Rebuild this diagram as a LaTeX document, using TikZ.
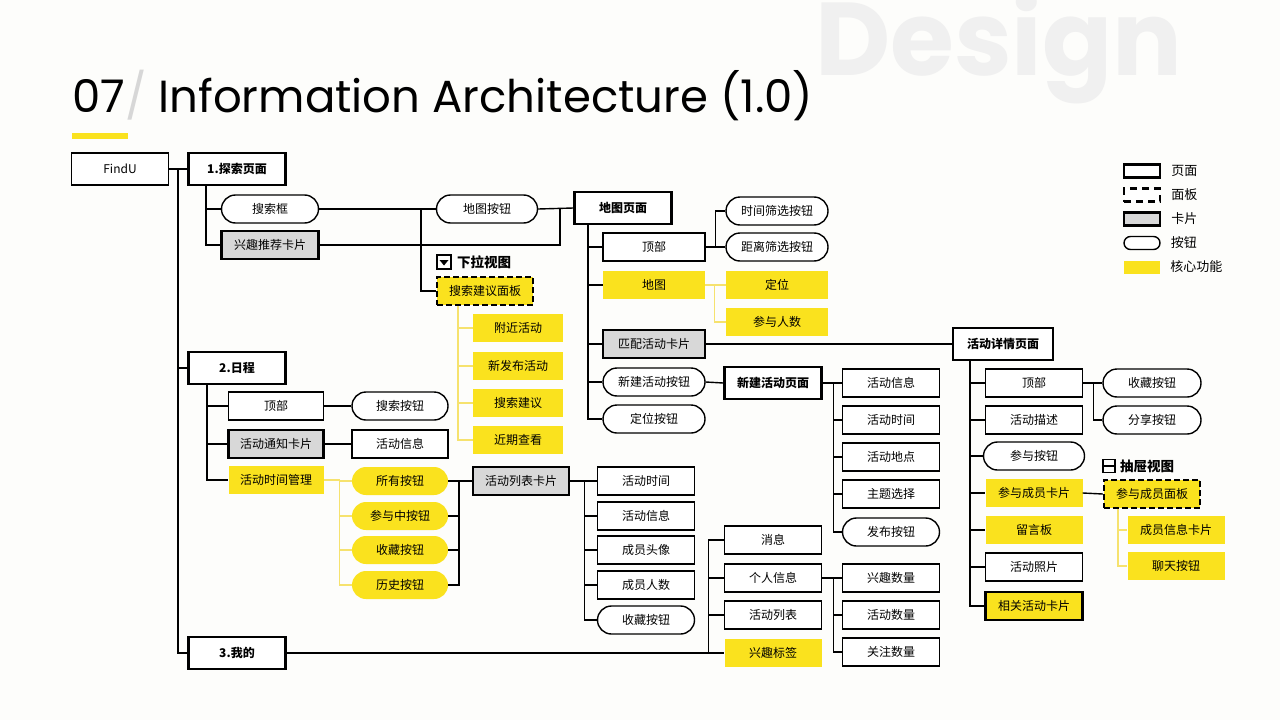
\documentclass[tikz,border=0pt]{standalone}
\usepackage{fontspec}
\setmainfont{Noto Sans CJK SC}
\newfontfamily\titlefont{Poppins}
\usetikzlibrary{positioning}
\definecolor{coreyellow}{RGB}{250,226,30}
\definecolor{corelinecol}{RGB}{246,226,110}
\definecolor{cardgray}{RGB}{216,216,216}
\definecolor{pagebg}{RGB}{253,253,251}
\definecolor{ghost}{RGB}{240,240,240}
\definecolor{slashgray}{RGB}{215,215,215}
\begin{document}
\begin{tikzpicture}[x=1pt, y=-1pt,
    box/.style={minimum width=97pt, minimum height=28pt, inner sep=0pt, font=\fontsize{12}{14}\selectfont},
    rectbox/.style={box, draw, line width=1.4pt, fill=white},
    pagebox/.style={box, draw, line width=2.4pt, fill=white, minimum height=32pt, font=\fontsize{12}{14}\selectfont\bfseries},
    cardbox/.style={box, draw, line width=2.4pt, fill=cardgray},
    btnbox/.style={box, draw, line width=1.4pt, rounded corners=14pt, fill=white},
    panelbox/.style={box, draw, line width=2.4pt, dash pattern=on 6pt off 3pt, fill=coreyellow},
    corebox/.style={box, fill=coreyellow},
    corebtn/.style={box, fill=coreyellow, rounded corners=14pt},
    conn/.style={line width=1.4pt},
    coreconn/.style={line width=1.4pt, draw=corelinecol},
    viewlabel/.style={font=\fontsize{13.5}{15}\selectfont\bfseries, inner sep=0pt},
    legendtext/.style={box, minimum width=0pt, font=\fontsize{13}{15}\selectfont}]

  \fill[pagebg] (0,0) rectangle (1280,720);
  \useasboundingbox (0,0) rectangle (1280,720);

  % title
  \node[anchor=base west, inner sep=0pt, text=ghost] (ghosttext) at (815,75) {\titlefont\bfseries\fontsize{103.5}{110}\selectfont Design};
  \node[anchor=base west, inner sep=0pt] (title) at (72,112) {\titlefont\fontsize{45}{50}\selectfont 07\textcolor{slashgray}{/} Information Architecture (1.0)};
  \fill[coreyellow] (72,133) rectangle (128,139);

  % root and pages
  \node[rectbox, minimum height=32pt] (findu) at (120,169) {FindU};
  \node[pagebox] (explore) at (237,169) {1.探索页面};
  \node[pagebox] (schedule) at (237,368) {2.日程};
  \node[pagebox] (mine) at (237,653) {3.我的};
  \coordinate (rootfork) at (178,169);
  \draw[conn] (findu.east) -- (explore.west);
  \draw[conn] (rootfork) |- (schedule.west);
  \draw[conn] (rootfork) |- (mine.west);

  % 1. explore
  \node[btnbox] (searchbox) at (270,209) {搜索框};
  \node[cardbox] (reccard) at (270,245) {兴趣推荐卡片};
  \draw[conn] ([xshift=-31pt]explore.south) |- (searchbox.west);
  \draw[conn] ([xshift=-31pt]explore.south) |- (reccard.west);

  \node[btnbox, minimum width=101pt] (mapbtn) at (487,209) {地图按钮};
  \node[pagebox] (mappage) at (623,208) {地图页面};
  \node[panelbox, minimum width=96pt] (suggpanel) at (485,291) {搜索建议面板};
  \node[draw, line width=1.6pt, minimum size=14pt, inner sep=0pt] (dropicon) at (444,262) {};
  \fill ([xshift=-4.5pt,yshift=2pt]dropicon.center) -- ([xshift=4.5pt,yshift=2pt]dropicon.center) -- ([yshift=-3.5pt]dropicon.center) -- cycle;
  \node[viewlabel, right=5pt of dropicon] (droplabel) {下拉视图};
  \coordinate (searchfork) at (421,209);
  \coordinate (mapfork) at (560,209);
  \draw[conn] (searchbox.east) -- (mapbtn.west);
  \draw[conn] (searchfork) |- (suggpanel.west);
  \draw[conn] (mapbtn.east) -- (mappage.west);
  \draw[conn] (reccard.east) -| (mapfork);

  \node[corebox, minimum width=90pt] (nearby) at (518,328) {附近活动};
  \node[corebox, minimum width=90pt] (newest) at (518,366) {新发布活动};
  \node[corebox, minimum width=90pt] (suggest) at (518,403) {搜索建议};
  \node[corebox, minimum width=90pt] (recent) at (518,440) {近期查看};
  \draw[coreconn] ([xshift=-27pt]suggpanel.south) |- (nearby.west);
  \draw[coreconn] ([xshift=-27pt]suggpanel.south) |- (newest.west);
  \draw[coreconn] ([xshift=-27pt]suggpanel.south) |- (suggest.west);
  \draw[coreconn] ([xshift=-27pt]suggpanel.south) |- (recent.west);

  % map page
  \node[rectbox, minimum width=102pt] (maptop) at (654,247) {顶部};
  \node[corebox, minimum width=102pt] (mapview) at (654,285) {地图};
  \node[cardbox, minimum width=102pt] (matchcard) at (654,344) {匹配活动卡片};
  \node[btnbox, minimum width=102pt] (newbtn) at (654,382) {新建活动按钮};
  \node[btnbox, minimum width=102pt] (locbtn) at (654,419) {定位按钮};
  \foreach \n in {maptop, mapview, matchcard, newbtn, locbtn}
    \draw[conn] ([xshift=-35pt]mappage.south) |- (\n.west);

  \node[btnbox, minimum width=102pt] (timefilter) at (777,211) {时间筛选按钮};
  \node[btnbox, minimum width=102pt] (distfilter) at (777,247) {距离筛选按钮};
  \draw[conn] (maptop.east) -- (distfilter.west);
  \draw[conn] ([xshift=10pt]maptop.east) |- (timefilter.west);
  \node[corebox, minimum width=102pt] (locate) at (777,285) {定位};
  \node[corebox, minimum width=102pt] (people) at (777,322) {参与人数};
  \draw[coreconn] (mapview.east) -- (locate.west);
  \draw[coreconn] ([xshift=9pt]mapview.east) |- (people.west);

  % new activity page
  \node[pagebox] (newpage) at (773,383) {新建活动页面};
  \draw[conn] (newbtn.east) -- (newpage.west);
  \node[rectbox] (newinfo) at (891,383) {活动信息};
  \node[rectbox] (newtime) at (891,420) {活动时间};
  \node[rectbox] (newplace) at (891,457) {活动地点};
  \node[rectbox] (newtopic) at (891,494) {主题选择};
  \node[btnbox] (publish) at (891,532) {发布按钮};
  \foreach \n in {newinfo, newtime, newplace, newtopic, publish}
    \draw[conn] ([xshift=11pt]newpage.east) |- (\n.west);
  \draw[conn] (newpage.east) -- ++(11,0);

  % activity detail page
  \node[pagebox, minimum width=100pt] (detail) at (1003,344) {活动详情页面};
  \draw[conn] (matchcard.east) -- (detail.west);
  \node[rectbox] (dettop) at (1034,383) {顶部};
  \node[rectbox] (detdesc) at (1034,420) {活动描述};
  \node[btnbox, minimum width=101pt] (joinbtn) at (1034,456) {参与按钮};
  \node[corebox] (membercard) at (1034,493) {参与成员卡片};
  \node[corebox] (board) at (1034,530) {留言板};
  \node[rectbox] (photos) at (1034,567) {活动照片};
  \node[box, draw, line width=2.4pt, fill=coreyellow] (relcard) at (1034,606) {相关活动卡片};
  \foreach \n in {dettop, detdesc, joinbtn, membercard, board, photos, relcard}
    \draw[conn] ([xshift=-33pt]detail.south) |- (\n.west);

  \node[btnbox, minimum width=98pt] (favbtn) at (1152,383) {收藏按钮};
  \node[btnbox, minimum width=98pt] (sharebtn) at (1152,420) {分享按钮};
  \draw[conn] (dettop.east) -- (favbtn.west);
  \draw[conn] ([xshift=10pt]dettop.east) |- (sharebtn.west);

  \node[draw, line width=1.6pt, minimum width=12pt, minimum height=13pt, inner sep=0pt] (drawericon) at (1109,466) {};
  \draw[line width=1.4pt] (drawericon.west) -- (drawericon.east);
  \node[viewlabel, right=4pt of drawericon] (drawerlabel) {抽屉视图};
  \node[panelbox, minimum width=96pt] (memberpanel) at (1152,494) {参与成员面板};
  \draw[conn] (membercard.east) -- (memberpanel.west);
  \node[corebox] (memberinfo) at (1176,530) {成员信息卡片};
  \node[corebox] (chatbtn) at (1176,566) {聊天按钮};
  \draw[coreconn] ([xshift=-34pt]memberpanel.south) |- (memberinfo.west);
  \draw[coreconn] ([xshift=-34pt]memberpanel.south) |- (chatbtn.west);

  % 2. schedule
  \node[rectbox, minimum width=95pt] (schedtop) at (276,406) {顶部};
  \node[cardbox, minimum width=95pt] (notecard) at (276,444) {活动通知卡片};
  \node[corebox, minimum width=95pt] (timemgr) at (276,480) {活动时间管理};
  \foreach \n in {schedtop, notecard, timemgr}
    \draw[conn] ([xshift=-30pt]schedule.south) |- (\n.west);

  \node[btnbox, minimum width=96pt] (searchbtn) at (400,406) {搜索按钮};
  \node[rectbox, minimum width=96pt] (noteinfo) at (400,444) {活动信息};
  \draw[conn] (schedtop.east) -- (searchbtn.west);
  \draw[conn] (notecard.east) -- (noteinfo.west);

  \node[corebtn, minimum width=96pt] (allbtn) at (400,481) {所有按钮};
  \node[corebtn, minimum width=96pt] (ongoingbtn) at (400,516) {参与中按钮};
  \node[corebtn, minimum width=96pt] (savedbtn) at (400,550) {收藏按钮};
  \node[corebtn, minimum width=96pt] (historybtn) at (400,585) {历史按钮};
  \foreach \n in {allbtn, ongoingbtn, savedbtn, historybtn}
    \draw[coreconn] ([xshift=16pt]timemgr.east) |- (\n.west);
  \draw[coreconn] (timemgr.east) -- ++(16,0);

  \node[cardbox, minimum width=96pt] (listcard) at (521,481) {活动列表卡片};
  \foreach \n in {allbtn, ongoingbtn, savedbtn, historybtn}
    \draw[conn] (\n.east) -| ([xshift=-13pt]listcard.west);
  \draw[conn] ([xshift=-13pt]listcard.west) -- (listcard.west);

  \node[rectbox] (listtime) at (646,481) {活动时间};
  \node[rectbox] (listinfo) at (646,516) {活动信息};
  \node[rectbox] (listavatar) at (646,550) {成员头像};
  \node[rectbox] (listcount) at (646,585) {成员人数};
  \node[btnbox] (listfav) at (646,620) {收藏按钮};
  \foreach \n in {listtime, listinfo, listavatar, listcount, listfav}
    \draw[conn] ([xshift=14pt]listcard.east) |- (\n.west);
  \draw[conn] (listcard.east) -- ++(14,0);

  % 3. mine
  \node[rectbox] (msg) at (773,540) {消息};
  \node[rectbox] (profile) at (773,578) {个人信息};
  \node[rectbox] (mylist) at (773,615) {活动列表};
  \node[corebox] (tags) at (773,653) {兴趣标签};
  \draw[conn] (mine.east) -- (tags.west);
  \foreach \n in {msg, profile, mylist}
    \draw[conn] ([xshift=-16pt]tags.west) |- (\n.west);

  \node[rectbox] (intcount) at (891,578) {兴趣数量};
  \node[rectbox] (actcount) at (891,615) {活动数量};
  \node[rectbox] (follcount) at (891,652) {关注数量};
  \foreach \n in {intcount, actcount, follcount}
    \draw[conn] ([xshift=11pt]profile.east) |- (\n.west);
  \draw[conn] (profile.east) -- ++(11,0);

  % legend
  \node[pagebox, minimum width=36pt, minimum height=13pt] (lgpage) at (1142,171) {};
  \node[panelbox, fill=white, dash pattern=on 7pt off 5pt, minimum width=36pt, minimum height=13pt] (lgpanel) at (1142,195) {};
  \node[cardbox, minimum width=36pt, minimum height=13pt] (lgcard) at (1142,219) {};
  \node[btnbox, rounded corners=6.5pt, minimum width=36pt, minimum height=13pt] (lgbtn) at (1142,243) {};
  \node[corebox, minimum width=36pt, minimum height=13pt] (lgcore) at (1142,267) {};
  \node[legendtext, right=10pt of lgpage] {页面};
  \node[legendtext, right=10pt of lgpanel] {面板};
  \node[legendtext, right=10pt of lgcard] {卡片};
  \node[legendtext, right=10pt of lgbtn] {按钮};
  \node[legendtext, right=10pt of lgcore] {核心功能};
\end{tikzpicture}
\end{document}
